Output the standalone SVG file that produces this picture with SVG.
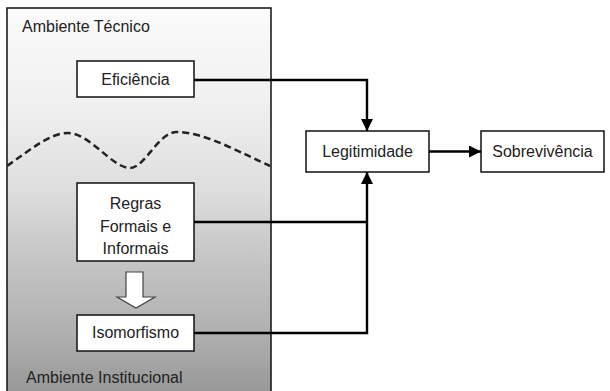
<svg xmlns="http://www.w3.org/2000/svg" width="610" height="391" viewBox="0 0 610 391">
<defs>
<linearGradient id="bg" x1="0" y1="0" x2="0" y2="1">
<stop offset="0" stop-color="#fbfbfb"/>
<stop offset="0.24" stop-color="#f0f0f0"/>
<stop offset="0.47" stop-color="#dedede"/>
<stop offset="0.62" stop-color="#c8c8c8"/>
<stop offset="0.83" stop-color="#b0b0b0"/>
<stop offset="1" stop-color="#969696"/>
</linearGradient>
<marker id="ah" viewBox="0 0 10 10" refX="10" refY="5" markerWidth="5" markerHeight="5" orient="auto" markerUnits="strokeWidth">
<path d="M0,0 L10,5 L0,10 z" fill="#000"/>
</marker>
<style>
text{font-family:"Liberation Sans",Arial,sans-serif;font-size:16px;fill:#222}
.box{fill:#fff;stroke:#111;stroke-width:1.5}
.c{text-anchor:middle}
.ln{fill:none;stroke:#000;stroke-width:2.4}
</style>
</defs>
<g id="ambiente">
<rect x="7" y="8" width="264" height="390" fill="url(#bg)" stroke="#111" stroke-width="1.5"/>
<text x="22" y="32">Ambiente Técnico</text>
<path d="M7,166 C30,150 50,133 68,133 C90,133 112,168 130,168 C145,168 158,132 177,132 C205,132 245,155 270,166" fill="none" stroke="#222" stroke-width="2.5" stroke-dasharray="7,4"/>
<text x="26" y="383">Ambiente Institucional</text>
</g>
<g id="eficiencia">
<rect class="box" x="77" y="61" width="117" height="36"/>
<text class="c" x="135.5" y="85">Eficiência</text>
</g>
<g id="regras">
<rect class="box" x="77" y="183" width="117" height="78"/>
<text class="c" x="135.5" y="209">Regras</text>
<text class="c" x="135.5" y="232">Formais e</text>
<text class="c" x="135.5" y="254">Informais</text>
</g>
<g id="seta-vazada">
<path d="M126,272 L143,272 L143,297 L155,297 L136,308 L117,297 L126,297 z" fill="#fff" stroke="#444" stroke-width="1.2"/>
</g>
<g id="isomorfismo">
<rect class="box" x="77" y="315" width="117" height="36"/>
<text class="c" x="135.5" y="338">Isomorfismo</text>
</g>
<g id="legitimidade">
<rect class="box" x="306" y="131" width="123" height="41"/>
<text class="c" x="367.5" y="157">Legitimidade</text>
</g>
<g id="sobrevivencia">
<rect class="box" x="481" y="131" width="123" height="41"/>
<text class="c" x="542.5" y="157">Sobrevivência</text>
</g>
<g id="connectors">
<path class="ln" d="M194,80 H367 V131" marker-end="url(#ah)"/>
<path class="ln" d="M194,222 H367"/>
<path class="ln" d="M194,333 H367 V172" marker-end="url(#ah)"/>
<path class="ln" d="M429,151.5 H481" marker-end="url(#ah)"/>
</g>
</svg>
